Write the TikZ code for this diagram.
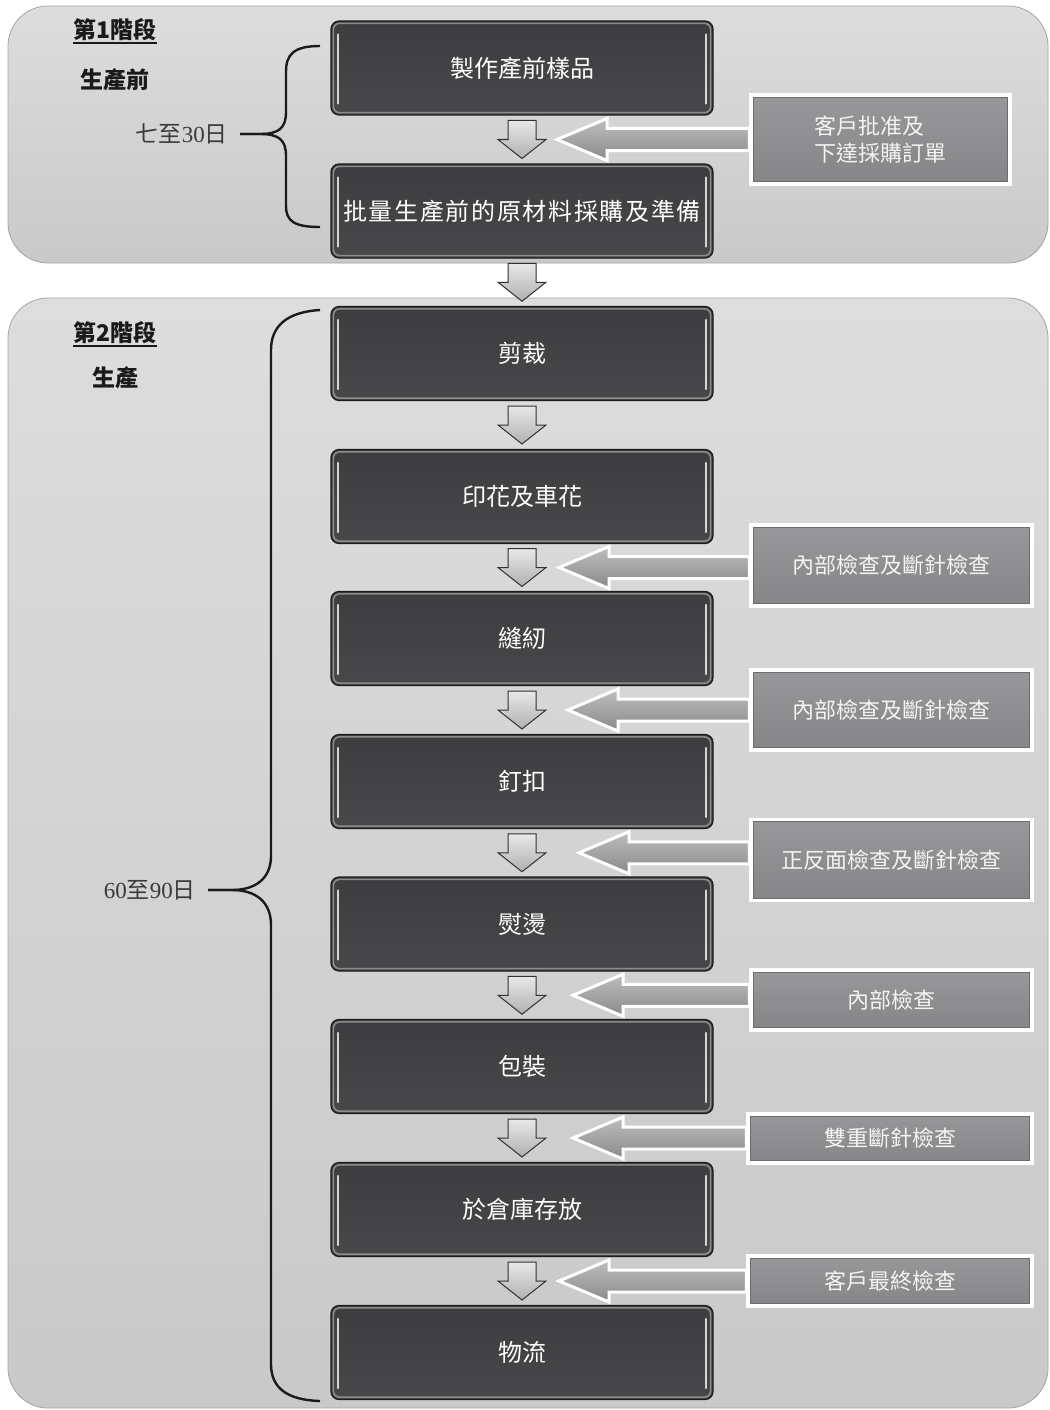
\documentclass[tikz,border=0pt]{standalone}
\usepackage{fontspec}
\setmainfont{Liberation Serif}
\newfontfamily\cjk{Noto Sans CJK TC}
\usetikzlibrary{calc,shadows}
\definecolor{panA}{HTML}{DDDDDE}
\definecolor{panB}{HTML}{C9C9CA}
\definecolor{panLine}{HTML}{A5A5A5}
\definecolor{boxA}{HTML}{3D3D3F}
\definecolor{boxB}{HTML}{48484A}
\definecolor{boxLine}{HTML}{1C1C1C}
\definecolor{boxRim}{HTML}{8C8C8C}
\definecolor{boxHi}{HTML}{D4D4D4}
\definecolor{sideA}{HTML}{98989B}
\definecolor{sideB}{HTML}{858588}
\definecolor{sideRim}{HTML}{6C6C6E}
\definecolor{arrA}{HTML}{E8E8E8}
\definecolor{arrB}{HTML}{B0B0B0}
\definecolor{larA}{HTML}{BEBEBE}
\definecolor{larB}{HTML}{8A8A8C}
\definecolor{ink}{HTML}{1A1A1A}
\definecolor{labelInk}{HTML}{3A3A3A}
\definecolor{sideText}{HTML}{F4F4F4}

\tikzset{
  panel/.style={draw=panLine, line width=0.8pt, rounded corners=40pt, top color=panA, bottom color=panB, inner sep=0pt, outer sep=0pt, anchor=north west},
  mainbox/.style={draw=boxLine, line width=1.2pt, top color=boxA, bottom color=boxB, rounded corners=8pt, minimum width=382, minimum height=94, inner sep=0pt, text=white, font=\cjk\fontsize{24}{28}\selectfont},
  sidebox/.style={draw=white, line width=3.5pt, top color=sideA, bottom color=sideB, inner sep=0pt, text=sideText, align=left, font=\cjk\fontsize{22}{27}\selectfont, drop shadow={shadow xshift=1.5pt, shadow yshift=-1.5pt, opacity=0.3}},
  darrow/.style={draw=ink!90, line width=1pt, line join=miter, top color=arrA, bottom color=arrB},
  larrow/.style={draw=white, line width=3pt, line join=miter, top color=larA, bottom color=larB},
  bracel/.style={draw=ink, line width=2.4pt},
  stagehead/.style={inner sep=0pt, text=ink, font=\cjk\bfseries\fontsize{23}{27}\selectfont},
  daylabel/.style={inner sep=0pt, anchor=east, text=labelInk, font=\fontsize{23}{27}\selectfont}
}

\newcommand\MainBox[3]{%
  \node[mainbox] (#1) at (522,#2) {#3};
  \draw[boxRim, line width=1.6pt, rounded corners=6pt] ($(#1.north west)+(3,3)$) rectangle ($(#1.south east)+(-3,-3)$);
  \draw[boxHi, line width=2pt, line cap=round] ($(#1.north west)+(8,14)$) -- ($(#1.south west)+(8,-12)$);
  \draw[boxHi, line width=2pt, line cap=round] ($(#1.north east)+(-8,14)$) -- ($(#1.south east)+(-8,-12)$);
}
\newcommand\DownArr[3]{%
  \coordinate (#1) at ($(#2.south)!0.5!(#3.north)$);
  \draw[darrow] ($(#1)+(-14,-19)$) -- ++(28,0) -- ++(0,19) -- ++(10,0) -- ++(-24,19) -- ++(-24,-19) -- ++(10,0) -- cycle;
}
\newcommand\SideBox[6]{%
  \node[sidebox, minimum width=#4, minimum height=#5] (#1) at (#2,#3) {#6};
  \draw[sideRim, line width=1pt] ($(#1.north west)+(4,4)$) rectangle ($(#1.south east)+(-4,-4)$);
}
\newcommand\LeftArr[3]{%
  \path (#1.west |- #2) coordinate (#1w);
  \draw[larrow] ($(#2)+(#3,0)$) -- ++(50,-21) -- ++(0,10) -- ($(#1w)+(0,-11)$) -- ++(0,22) -- ($(#2)+(#3+50,11)$) -- ++(0,10) -- cycle;
}

\begin{document}
\begin{tikzpicture}[x=1pt,y=-1pt]
\useasboundingbox (0,0) rectangle (1049,1410);
\clip (0,0) rectangle (1049,1410);
\fill[white] (0,0) rectangle (1049,1410);

% panels
\node[panel, minimum width=1040, minimum height=257] (p1) at (8,6) {};
\node[panel, minimum width=1040, minimum height=1110] (p2) at (8,298) {};

% stage headings
\node[stagehead] (h1) at (115,30) {第1階段};
\draw[ink, line width=1.6pt] ($(h1.south west)+(0,1.5)$) -- ($(h1.south east)+(0,1.5)$);
\node[stagehead] (h1b) at (115,80) {生產前};
\node[stagehead] (h2) at (115,333) {第2階段};
\draw[ink, line width=1.6pt] ($(h2.south west)+(0,1.5)$) -- ($(h2.south east)+(0,1.5)$);
\node[stagehead] (h2b) at (115,378) {生產};

% braces
\coordinate (br1) at (240,134);
\coordinate (br2) at (208,890);
\draw[bracel] (320,46) .. controls (293,46) and (286,55) .. (286,72) -- (286,112)
  .. controls (286,128) and (279,134) .. (260,134) -- (br1);
\draw[bracel] (br1) -- (260,134) .. controls (279,134) and (286,140) .. (286,156) -- (286,206)
  .. controls (286,221) and (294,227) .. (320,227);
\draw[bracel] (320,310) .. controls (287,312) and (271,326) .. (271,350) -- (271,856)
  .. controls (271,878) and (256,890) .. (232,890) -- (br2);
\draw[bracel] (br2) -- (232,890) .. controls (256,890) and (271,902) .. (271,925) -- (271,1364)
  .. controls (271,1388) and (287,1400) .. (320,1401);
\node[daylabel] (l1) at ($(br1)+(-12,0)$) {{\cjk 七至}30{\cjk 日}};
\node[daylabel] (l2) at ($(br2)+(-12,0)$) {60{\cjk 至}90{\cjk 日}};

% main boxes
\MainBox{b1}{68}{製作產前樣品}
\MainBox{b2}{211}{\addfontfeature{LetterSpace=7}批量生產前的原材料採購及準備}
\MainBox{b3}{353.5}{剪裁}
\MainBox{b4}{496.5}{印花及車花}
\MainBox{b5}{638.5}{縫紉}
\MainBox{b6}{781.5}{釘扣}
\MainBox{b7}{924}{熨燙}
\MainBox{b8}{1066.5}{包裝}
\MainBox{b9}{1209.5}{於倉庫存放}
\MainBox{b10}{1352.5}{物流}

% down arrows
\DownArr{a1}{b1}{b2}
\DownArr{a2}{b2}{b3}
\DownArr{a3}{b3}{b4}
\DownArr{a4}{b4}{b5}
\DownArr{a5}{b5}{b6}
\DownArr{a6}{b6}{b7}
\DownArr{a7}{b7}{b8}
\DownArr{a8}{b8}{b9}
\DownArr{a9}{b9}{b10}

% side boxes
\SideBox{s1}{880.5}{139.5}{259}{89}{客戶批准及\\下達採購訂單}
\SideBox{s2}{891.5}{565.5}{281}{81}{內部檢查及斷針檢查}
\SideBox{s3}{891.5}{710}{281}{80}{內部檢查及斷針檢查}
\SideBox{s4}{891.5}{860}{281}{81}{正反面檢查及斷針檢查}
\SideBox{s5}{891.5}{1000}{281}{60}{內部檢查}
\SideBox{s6}{890}{1138.5}{284}{49}{雙重斷針檢查}
\SideBox{s7}{890}{1281}{284}{50}{客戶最終檢查}

% left arrows
\LeftArr{s1}{a1}{35}
\LeftArr{s2}{a4}{37}
\LeftArr{s3}{a5}{46}
\LeftArr{s4}{a6}{57}
\LeftArr{s5}{a7}{51}
\LeftArr{s6}{a8}{51}
\LeftArr{s7}{a9}{37}
\end{tikzpicture}
\end{document}
